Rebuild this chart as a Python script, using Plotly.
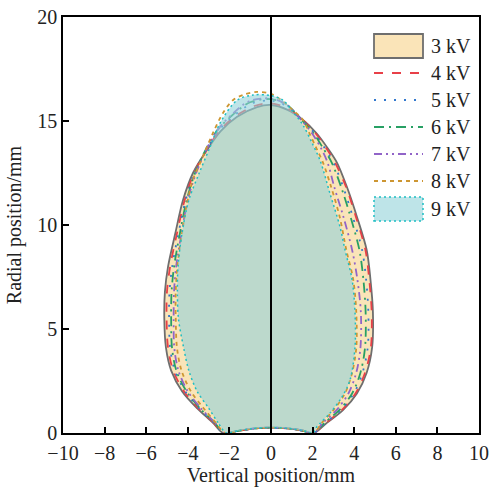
import plotly.graph_objects as go

# ---- data (mm) ----
kv_labels = ["3 kV", "4 kV", "5 kV", "6 kV", "7 kV", "8 kV", "9 kV"]

x_3kv = [-2.30, -2.80, -3.56, -4.27, -4.80, -5.05, -5.13, -5.10, -4.95, -4.60, -4.23, -3.75, -3.08, -2.43, -1.63,
         -0.67, 0.00, 0.77, 1.54, 2.20, 2.72, 3.17, 3.66, 4.13, 4.60, 4.78, 4.90, 4.86, 4.60, 4.13, 3.46, 2.70, 2.05,
         1.50, 0.80, 0.00, -0.80, -1.60, -2.30]
y_3kv = [0.00, 0.50, 1.20, 2.00, 3.00, 4.10, 5.50, 6.80, 8.00, 9.60, 11.20, 12.50, 13.60, 14.50, 15.20,
         15.67, 15.77, 15.55, 15.05, 14.40, 13.70, 13.00, 11.80, 10.40, 8.80, 7.40, 5.80, 4.10, 2.90, 1.90, 1.10, 0.50, 0.00,
         0.12, 0.22, 0.26, 0.22, 0.10, 0.00]

x_4kv = [-2.28, -2.77, -3.50, -4.18, -4.70, -4.95, -5.02, -5.00, -4.85, -4.52, -4.15, -3.70, -3.10, -2.50, -1.75,
         -0.80, 0.00, 0.80, 1.52, 2.15, 2.65, 3.08, 3.62, 4.08, 4.54, 4.72, 4.84, 4.80, 4.52, 4.06, 3.40, 2.66, 2.05,
         1.50, 0.80, 0.00, -0.80, -1.60, -2.28]
y_4kv = [0.00, 0.50, 1.20, 2.00, 3.00, 4.10, 5.50, 6.80, 8.00, 9.60, 11.20, 12.50, 13.60, 14.50, 15.20,
         15.72, 15.85, 15.60, 15.05, 14.40, 13.70, 13.00, 11.80, 10.40, 8.80, 7.40, 5.80, 4.10, 2.90, 1.90, 1.10, 0.50, 0.00,
         0.12, 0.22, 0.26, 0.22, 0.10, 0.00]

x_5kv = [-2.26, -2.75, -3.46, -4.12, -4.62, -4.85, -4.90, -4.88, -4.75, -4.45, -4.10, -3.68, -3.12, -2.55, -1.85,
         -0.90, 0.00, 0.80, 1.50, 2.10, 2.58, 3.00, 3.48, 3.93, 4.38, 4.57, 4.68, 4.65, 4.40, 3.98, 3.35, 2.62, 2.05,
         1.50, 0.80, 0.00, -0.80, -1.60, -2.26]
y_5kv = [0.00, 0.50, 1.20, 2.00, 3.00, 4.10, 5.50, 6.80, 8.00, 9.60, 11.20, 12.50, 13.60, 14.50, 15.20,
         15.85, 15.98, 15.70, 15.05, 14.40, 13.70, 13.00, 11.80, 10.40, 8.80, 7.40, 5.80, 4.10, 2.90, 1.90, 1.10, 0.50, 0.00,
         0.12, 0.22, 0.26, 0.22, 0.10, 0.00]

x_6kv = [-2.24, -2.72, -3.42, -4.06, -4.55, -4.76, -4.80, -4.78, -4.66, -4.38, -4.05, -3.65, -3.15, -2.62, -1.95,
         -1.00, 0.00, 0.80, 1.48, 2.05, 2.50, 2.92, 3.38, 3.82, 4.25, 4.44, 4.55, 4.52, 4.30, 3.90, 3.28, 2.58, 2.05,
         1.50, 0.80, 0.00, -0.80, -1.60, -2.24]
y_6kv = [0.00, 0.50, 1.20, 2.00, 3.00, 4.10, 5.50, 6.80, 8.00, 9.60, 11.20, 12.50, 13.60, 14.50, 15.20,
         15.90, 16.05, 15.75, 15.05, 14.40, 13.70, 13.00, 11.80, 10.40, 8.80, 7.40, 5.80, 4.10, 2.90, 1.90, 1.10, 0.50, 0.00,
         0.12, 0.22, 0.26, 0.22, 0.10, 0.00]

x_7kv = [-2.22, -2.70, -3.38, -4.00, -4.45, -4.65, -4.68, -4.66, -4.56, -4.30, -4.00, -3.60, -3.12, -2.62, -2.00,
         -1.05, 0.00, 0.80, 1.45, 1.98, 2.40, 2.72, 3.05, 3.48, 3.90, 4.15, 4.32, 4.30, 4.10, 3.72, 3.15, 2.50, 2.05,
         1.50, 0.80, 0.00, -0.80, -1.60, -2.22]
y_7kv = [0.00, 0.50, 1.20, 2.00, 3.00, 4.10, 5.50, 6.80, 8.00, 9.60, 11.20, 12.50, 13.60, 14.50, 15.20,
         15.95, 16.08, 15.75, 15.05, 14.40, 13.70, 13.00, 11.80, 10.40, 8.80, 7.40, 5.80, 4.10, 2.90, 1.90, 1.10, 0.50, 0.00,
         0.12, 0.22, 0.26, 0.22, 0.10, 0.00]

x_8kv = [-2.20, -2.66, -3.25, -3.85, -4.30, -4.52, -4.58, -4.58, -4.50, -4.28, -4.00, -3.75, -3.40, -2.80, -2.30,
         -1.83, -1.35, -0.67, 0.00, 0.43, 0.90, 1.54, 1.85, 2.18, 2.50, 2.90, 3.30, 3.62, 3.95, 4.10, 4.10, 3.90, 3.55,
         3.00, 2.45, 2.05, 1.50, 0.80, 0.00, -0.80, -1.60, -2.20]
y_8kv = [0.00, 0.50, 1.20, 2.00, 3.00, 4.10, 5.50, 6.80, 8.00, 9.60, 11.20, 12.20, 13.00, 14.40, 15.40,
         16.00, 16.25, 16.40, 16.30, 16.05, 15.65, 15.05, 14.40, 13.70, 13.00, 11.80, 10.40, 8.80, 7.40, 5.80, 4.10, 2.90, 1.90,
         1.10, 0.50, 0.00, 0.12, 0.22, 0.26, 0.22, 0.10, 0.00]

x_9kv = [-2.15, -2.55, -3.00, -3.55, -3.95, -4.20, -4.45, -4.50, -4.47, -4.28, -3.95, -3.45, -2.93, -2.45, -1.63,
         -0.87, 0.00, 0.58, 1.05, 1.54, 1.97, 2.36, 2.84, 3.32, 3.56, 3.90, 4.04, 4.04, 3.80, 3.41, 2.84, 2.20, 2.02,
         1.50, 0.80, 0.00, -0.80, -1.60, -2.15]
y_9kv = [0.00, 0.50, 1.20, 2.00, 3.00, 4.10, 5.50, 6.80, 8.00, 9.60, 11.20, 12.50, 13.75, 14.90, 16.00,
         16.25, 16.22, 16.00, 15.45, 14.80, 13.95, 13.10, 11.50, 9.90, 8.80, 7.36, 5.77, 4.14, 2.55, 1.73, 0.96, 0.29, 0.00,
         0.12, 0.22, 0.26, 0.22, 0.10, 0.00]

x_ticks = [-10, -8, -6, -4, -2, 0, 2, 4, 6, 8, 10]
y_ticks = [0, 5, 10, 15, 20]

FONT = "Liberation Serif, Times New Roman, serif"
TXT = "#222222"

# styles
fill_3 = "rgb(250,228,184)"
edge_3 = "rgb(110,110,110)"
fill_9 = "rgba(147,210,217,0.6)"
edge_9 = "rgb(30,190,195)"
dash_9 = "2px,3px"
line_specs = [
    (x_4kv, y_4kv, kv_labels[1], "rgb(232,64,72)", "9px,9px"),
    (x_5kv, y_5kv, kv_labels[2], "rgb(50,120,205)", "2px,8px"),
    (x_6kv, y_6kv, kv_labels[3], "rgb(40,160,100)", "10px,5px,2px,5px"),
    (x_7kv, y_7kv, kv_labels[4], "rgb(145,100,200)", "8px,4px,2px,4px,2px,4px"),
    (x_8kv, y_8kv, kv_labels[5], "rgb(205,150,50)", "4px,4px"),
]
SM = 0.9

fig = go.Figure()

fig.add_trace(go.Scatter(
    x=x_3kv, y=y_3kv, name=kv_labels[0], mode="lines", fill="toself",
    fillcolor=fill_3, line=dict(color=edge_3, width=1.8, shape="spline", smoothing=SM)))

for xs, ys, nm, col, dash in line_specs:
    fig.add_trace(go.Scatter(
        x=xs, y=ys, name=nm, mode="lines",
        line=dict(color=col, width=1.8, dash=dash, shape="spline", smoothing=SM)))

fig.add_trace(go.Scatter(
    x=x_9kv, y=y_9kv, name=kv_labels[6], mode="lines", fill="toself",
    fillcolor=fill_9, line=dict(color=edge_9, width=1.5, dash=dash_9, shape="spline", smoothing=SM)))

fig.add_vline(x=0, line=dict(color="black", width=2), layer="above")

# ---- hand-drawn legend (paper coordinates) ----
L_PLOT, T_PLOT, W_PLOT, H_PLOT = 63, 17, 416, 416


def px_x(p):
    return (p - L_PLOT) / W_PLOT


def px_y(p):
    return (T_PLOT + H_PLOT - p) / H_PLOT


sym_x0, sym_x1, txt_x = px_x(374), px_x(423), px_x(429)
row_y = [46, 73, 100, 127, 154, 181, 209]

fig.add_shape(type="rect", xref="paper", yref="paper",
              x0=sym_x0, x1=sym_x1, y0=px_y(row_y[0] + 12), y1=px_y(row_y[0] - 12),
              fillcolor=fill_3, line=dict(color=edge_3, width=1.8))
for i, (_, _, nm, col, dash) in enumerate(line_specs):
    yy = px_y(row_y[i + 1])
    fig.add_shape(type="line", xref="paper", yref="paper",
                  x0=sym_x0, x1=sym_x1, y0=yy, y1=yy,
                  line=dict(color=col, width=1.8, dash=dash))
fig.add_shape(type="rect", xref="paper", yref="paper",
              x0=sym_x0, x1=sym_x1, y0=px_y(row_y[6] + 12), y1=px_y(row_y[6] - 12),
              fillcolor=fill_9, line=dict(color=edge_9, width=1.5, dash=dash_9))
for i, nm in enumerate(kv_labels):
    fig.add_annotation(xref="paper", yref="paper", x=txt_x, y=px_y(row_y[i]),
                       xanchor="left", yanchor="middle", text=nm, showarrow=False,
                       font=dict(family=FONT, size=20, color=TXT))

axis_common = dict(
    showline=True, linecolor="black", linewidth=1.5, mirror=True,
    ticks="inside", ticklen=6, tickwidth=1.5, tickcolor="black",
    showgrid=False, zeroline=False, automargin=False,
    tickfont=dict(family=FONT, size=20, color=TXT),
)

fig.update_xaxes(range=[-10, 10], tickvals=x_ticks, ticklabelstandoff=1, **axis_common,
                 title=dict(text="Vertical position/mm", font=dict(family=FONT, size=20, color=TXT), standoff=1))
fig.update_yaxes(range=[0, 20], tickvals=y_ticks, **axis_common,
                 title=dict(text="Radial position/mm", font=dict(family=FONT, size=20, color=TXT), standoff=10))

fig.update_layout(
    width=490, height=489,
    margin=dict(l=L_PLOT, r=490 - L_PLOT - W_PLOT, t=T_PLOT, b=489 - T_PLOT - H_PLOT),
    paper_bgcolor="white", plot_bgcolor="white",
    showlegend=False,
)

fig.write_html("out.html", config={"displayModeBar": False},
               post_script="document.body.style.margin='0';document.body.style.overflow='hidden';")
